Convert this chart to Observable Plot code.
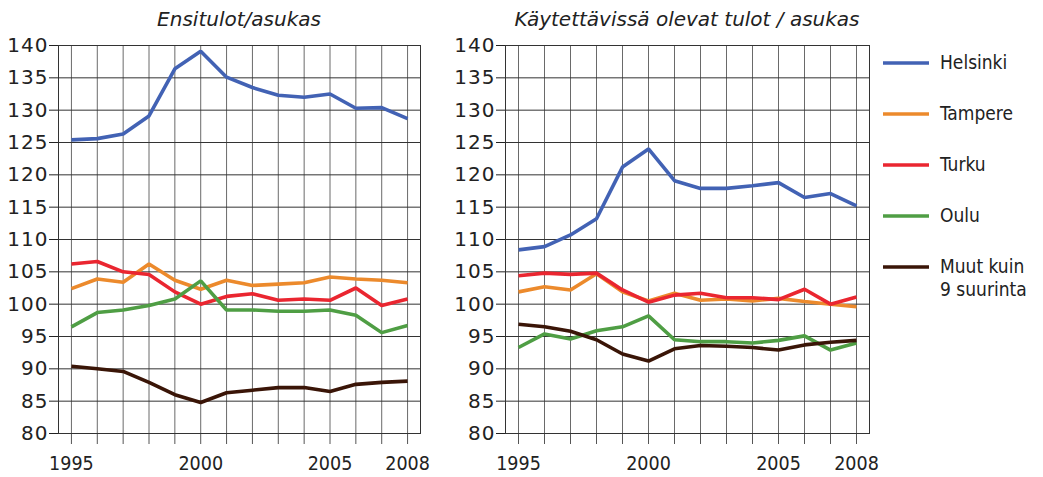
<!DOCTYPE html>
<html>
<head>
<meta charset="utf-8">
<script src="https://cdn.jsdelivr.net/npm/d3@7"></script>
<script src="https://cdn.jsdelivr.net/npm/@observablehq/plot@0.6"></script>
<style>
  body { margin: 0; background: #fff; }
  #chart { position: relative; width: 1043px; height: 477px; font-family: "DejaVu Sans Condensed", "DejaVu Sans", sans-serif; color: #222; }
  .panel { position: absolute; top: 0; }
  .title { position: absolute; top: 8px; font-family: "DejaVu Sans", sans-serif; font-size: 20px; line-height: 22px; font-style: italic; text-align: center; color: #222; white-space: nowrap; }
  .legend { position: absolute; left: 883px; top: 0; }
  .item { position: absolute; left: 0; width: 160px; }
  .item svg { position: absolute; left: 0; }
  .item span { position: absolute; left: 57px; font-size: 19px; line-height: 23px; white-space: nowrap; }
  .yax text { font-family: "DejaVu Sans", sans-serif; font-size: 20px; letter-spacing: 1px; }
  .xax text { font-size: 19.5px; }
</style>
</head>
<body>
<div id="chart"></div>
<script>
const years = [1995,1996,1997,1998,1999,2000,2001,2002,2003,2004,2005,2006,2007,2008];
const yearLabels = [1995, 2000, 2005, 2008];
const yTicks = [80,85,90,95,100,105,110,115,120,125,130,135,140];
const seriesNames = ["Helsinki", "Tampere", "Turku", "Oulu", "Muut kuin 9 suurinta"];
const seriesLabels = [["Helsinki"], ["Tampere"], ["Turku"], ["Oulu"], ["Muut kuin", "9 suurinta"]];
const seriesColors = ["#4262b4", "#ec8a2c", "#ea2630", "#4f9e44", "#3a1507"];
const panelTitles = ["Ensitulot/asukas", "Käytettävissä olevat tulot / asukas"];

// Panel 1: Ensitulot/asukas
const p1Helsinki = [125.4,125.6,126.3,129.1,136.4,139.1,135.1,133.5,132.3,132.0,132.5,130.3,130.4,128.7];
const p1Tampere  = [102.4,103.9,103.4,106.2,103.7,102.3,103.7,102.9,103.1,103.3,104.2,103.9,103.7,103.3];
const p1Turku    = [106.2,106.6,105.0,104.6,101.9,100.0,101.2,101.6,100.6,100.8,100.6,102.5,99.8,100.8];
const p1Oulu     = [96.5,98.7,99.1,99.8,100.8,103.6,99.1,99.1,98.9,98.9,99.1,98.3,95.6,96.7];
const p1Muut     = [90.4,90.0,89.6,87.9,86.0,84.8,86.3,86.7,87.1,87.1,86.5,87.6,87.9,88.1];

// Panel 2: Käytettävissä olevat tulot / asukas
const p2Helsinki = [108.4,108.9,110.7,113.2,121.2,124.0,119.1,117.9,117.9,118.3,118.8,116.5,117.1,115.2];
const p2Tampere  = [101.9,102.7,102.2,104.7,101.9,100.5,101.7,100.6,100.8,100.5,100.9,100.4,100.0,99.6];
const p2Turku    = [104.4,104.8,104.6,104.8,102.2,100.3,101.4,101.7,101.0,101.0,100.7,102.3,100.0,101.1];
const p2Oulu     = [93.3,95.4,94.6,95.9,96.5,98.2,94.5,94.2,94.2,94.0,94.4,95.1,92.9,94.0];
const p2Muut     = [96.9,96.5,95.8,94.5,92.3,91.2,93.1,93.6,93.5,93.3,92.9,93.7,94.1,94.4];

const panels = [
  [p1Helsinki, p1Tampere, p1Turku, p1Oulu, p1Muut],
  [p2Helsinki, p2Tampere, p2Turku, p2Oulu, p2Muut]
];

function rows(panel) {
  const out = [];
  panel.forEach((vals, si) => vals.forEach((v, i) => out.push({series: seriesNames[si], year: years[i], value: v})));
  return out;
}

const chart = document.getElementById("chart");
const layout = [
  {left: 0, width: 440, marginLeft: 58, marginRight: 20},
  {left: 440, width: 450, marginLeft: 65, marginRight: 21}
];

layout.forEach((L, pi) => {
  const data = rows(panels[pi]);
  const svg = Plot.plot({
    width: L.width,
    height: 477,
    marginLeft: L.marginLeft,
    marginRight: L.marginRight,
    marginTop: 45,
    marginBottom: 44,
    style: {fontFamily: "'DejaVu Sans Condensed', 'DejaVu Sans', sans-serif", fontSize: "19px", color: "#222", background: "transparent", overflow: "visible"},
    x: {domain: [1994.5, 2008.5]},
    y: {domain: [80, 140]},
    color: {domain: seriesNames, range: seriesColors},
    marks: [
      Plot.gridX(years, {stroke: "#6a6a6a", strokeOpacity: 1}),
      Plot.gridY(yTicks, {stroke: "#333", strokeOpacity: 1}),
      Plot.axisX({ticks: years, tickSize: 11, tickPadding: 12, stroke: "#555", className: "xax", tickFormat: d => yearLabels.includes(d) ? String(d) : "", label: null}),
      Plot.axisY({ticks: yTicks, tickSize: 9, tickPadding: 1, className: "yax", tickFormat: d => String(d), label: null}),
      Plot.frame({stroke: "#333"}),
      Plot.lineY(data, {x: "year", y: "value", z: "series", stroke: "series", strokeWidth: 3.6, strokeLinejoin: "miter", strokeLinecap: "butt"})
    ]
  });
  svg.classList.add("panel");
  svg.style.left = L.left + "px";
  chart.appendChild(svg);

  const t = document.createElement("div");
  t.className = "title";
  const fx0 = L.left + L.marginLeft, fx1 = L.left + L.width - L.marginRight;
  t.style.left = fx0 + "px";
  t.style.width = (fx1 - fx0) + "px";
  t.textContent = panelTitles[pi];
  chart.appendChild(t);
});

// Legend
const legend = document.createElement("div");
legend.className = "legend";
seriesNames.forEach((name, i) => {
  const item = document.createElement("div");
  item.className = "item";
  const cy = 63 + i * 51;
  item.style.top = cy + "px";
  const sw = d3.create("svg").attr("width", 46).attr("height", 6).style("top", "-3px");
  sw.append("line").attr("x1", 0).attr("x2", 46).attr("y1", 3).attr("y2", 3)
    .attr("stroke", seriesColors[i]).attr("stroke-width", 3.6).attr("stroke-linecap", "round");
  item.appendChild(sw.node());
  const span = document.createElement("span");
  const lines = seriesLabels[i];
  span.style.top = (-12) + "px";
  lines.forEach((ln, k) => {
    if (k) span.appendChild(document.createElement("br"));
    span.appendChild(document.createTextNode(ln));
  });
  item.appendChild(span);
  legend.appendChild(item);
});
chart.appendChild(legend);
</script>
</body>
</html>
